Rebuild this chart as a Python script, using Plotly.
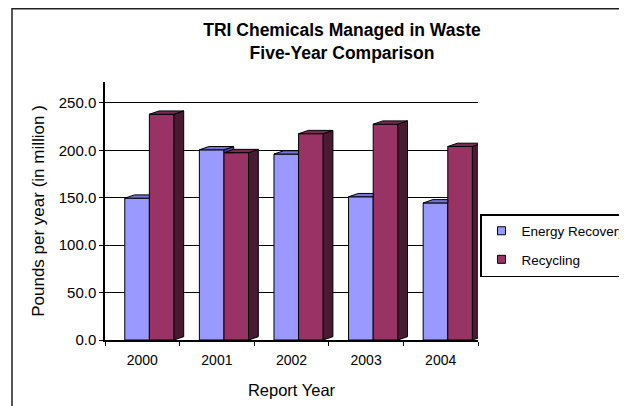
import plotly.graph_objects as go

# ---------------- data ----------------
years = ["2000", "2001", "2002", "2003", "2004"]
energy_recovery = [149.5, 200.5, 196.0, 151.0, 144.5]
recycling = [238.0, 197.5, 217.5, 227.5, 204.0]
y_tick_values = [0, 50, 100, 150, 200, 250]
y_tick_labels = ["0.0", "50.0", "100.0", "150.0", "200.0", "250.0"]

# ---------------- styling / geometry ----------------
FONT = "Liberation Sans, Arial, sans-serif"
E_FRONT, E_TOP, E_SIDE = "#9999FF", "#7373D9", "#4D4D99"
R_FRONT, R_TOP, R_SIDE = "#993366", "#7A2952", "#4A1A33"
W = 0.33          # bar width (category units)
E_OFF = -0.235    # offset of first series
R_OFF = E_OFF + W
D = 0.13          # 3D depth (x, category units)
DY = 3.5          # 3D depth (y, data units)

FIG_W, FIG_H = 627, 406
ML, MR, MT, MB = 97, 157, 74, 74
PW, PH = FIG_W - ML - MR, FIG_H - MT - MB

pos = list(range(len(years)))

fig = go.Figure()

# front faces
fig.add_trace(go.Bar(x=pos, y=energy_recovery, width=W, offset=E_OFF,
                     marker=dict(color=E_FRONT, line=dict(color="black", width=1)),
                     name="Energy Recovery", showlegend=False, hoverinfo="y"))
fig.add_trace(go.Bar(x=pos, y=recycling, width=W, offset=R_OFF,
                     marker=dict(color=R_FRONT, line=dict(color="black", width=1)),
                     name="Recycling", showlegend=False, hoverinfo="y"))

# 3D faces for energy series
es_x, es_y, et_x, et_y = [], [], [], []
for p, e, r in zip(pos, energy_recovery, recycling):
    x0 = p + E_OFF
    x1 = x0 + W
    if r >= e + DY:
        et_x += [x0, x1, x1, x0 + D, x0, None]
        et_y += [e, e, e + DY, e + DY, e, None]
    else:
        et_x += [x0, x1, x1 + D, x0 + D, x0, None]
        et_y += [e, e, e + DY, e + DY, e, None]
    if e > r:
        es_x += [x1, x1 + D, x1 + D, x1, x1, None]
        es_y += [r, r, e + DY, e, r, None]

if es_x:
    fig.add_trace(go.Scatter(x=es_x, y=es_y, mode="lines", fill="toself",
                             fillcolor=E_SIDE, line=dict(color="black", width=1),
                             showlegend=False, hoverinfo="skip"))
fig.add_trace(go.Scatter(x=et_x, y=et_y, mode="lines", fill="toself",
                         fillcolor=E_TOP, line=dict(color="black", width=1),
                         showlegend=False, hoverinfo="skip"))

# 3D faces for recycling series
rs_x, rs_y, rt_x, rt_y = [], [], [], []
for p, r in zip(pos, recycling):
    x0 = p + R_OFF
    x1 = x0 + W
    rs_x += [x1, x1 + D, x1 + D, x1, x1, None]
    rs_y += [0, DY, r + DY, r, 0, None]
    rt_x += [x0, x1, x1 + D, x0 + D, x0, None]
    rt_y += [r, r, r + DY, r + DY, r, None]

fig.add_trace(go.Scatter(x=rs_x, y=rs_y, mode="lines", fill="toself",
                         fillcolor=R_SIDE, line=dict(color="black", width=1),
                         showlegend=False, hoverinfo="skip"))
fig.add_trace(go.Scatter(x=rt_x, y=rt_y, mode="lines", fill="toself",
                         fillcolor=R_TOP, line=dict(color="black", width=1),
                         showlegend=False, hoverinfo="skip"))

# legend entries
fig.add_trace(go.Scatter(x=[None], y=[None], mode="markers", name="Energy Recovery",
                         legendgroup="e",
                         marker=dict(symbol="square", size=8, color=E_FRONT,
                                     line=dict(color="black", width=1))))
fig.add_trace(go.Scatter(x=[None], y=[None], mode="markers", name="Recycling",
                         legendgroup="r",
                         marker=dict(symbol="square", size=8, color=R_FRONT,
                                     line=dict(color="black", width=1))))

fig.update_layout(
    width=FIG_W, height=FIG_H,
    margin=dict(l=ML, r=MR, t=MT, b=MB, autoexpand=False),
    paper_bgcolor="white", plot_bgcolor="white",
    barmode="overlay",
    font=dict(family=FONT, size=15, color="black"),
    title=dict(text="<b>TRI Chemicals Managed in Waste<br>Five-Year Comparison</b>",
               x=334 / FIG_W, xanchor="center", xref="container",
               y=1 - 28 / FIG_H, yanchor="top", yref="container",
               font=dict(family=FONT, size=17.5, color="black")),
    xaxis=dict(range=[-0.5, 4.5], tickvals=pos, ticktext=years,
               ticks="", showgrid=False, zeroline=False,
               showline=True, linecolor="black", linewidth=1.5,
               ticklabelstandoff=6,
               tickfont=dict(size=14),
               minor=dict(tickvals=[p - 0.5 for p in pos] + [len(pos) - 0.5],
                          ticks="outside", ticklen=4, tickcolor="black", showgrid=False),
               title=dict(text="Report Year", font=dict(size=16.5), standoff=18)),
    yaxis=dict(range=[0, 272], tickvals=y_tick_values, ticktext=y_tick_labels,
               ticks="outside", ticklen=4, tickcolor="black",
               showgrid=True, gridcolor="black", gridwidth=1.2,
               zeroline=False, showline=True, linecolor="black", linewidth=1.5,
               tickfont=dict(size=15),
               title=dict(text="Pounds per year (in million )", font=dict(size=17), standoff=10)),
    legend=dict(xref="container", yref="container",
                x=472 / FIG_W, xanchor="left", y=1 - 206 / FIG_H, yanchor="top",
                bgcolor="white", bordercolor="black", borderwidth=1.5,
                font=dict(family=FONT, size=13.5, color="black"),
                tracegroupgap=8),
    shapes=[dict(type="rect", xref="paper", yref="paper",
                 x0=(4 - ML) / PW, x1=1.6, y0=-0.5, y1=(FIG_H - MB - 0.75) / PH,
                 line=dict(color="#222222", width=1.5), fillcolor="rgba(0,0,0,0)",
                 layer="below")],
)

fig.write_html("out.html")
